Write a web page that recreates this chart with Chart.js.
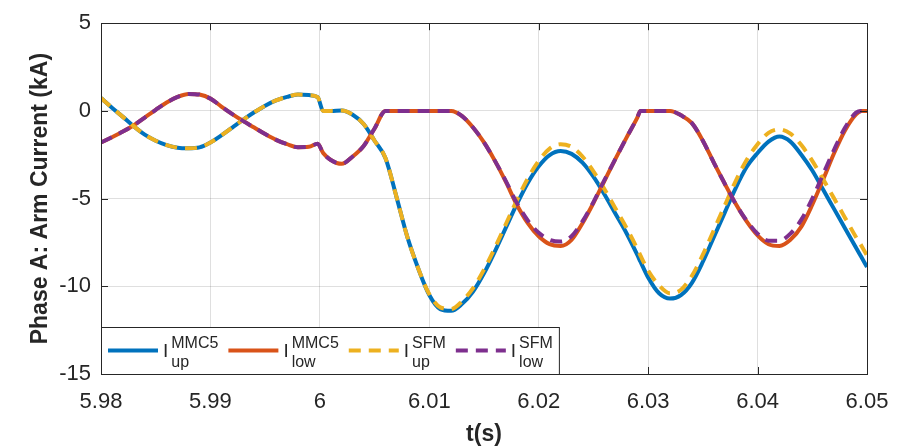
<!DOCTYPE html>
<html>
<head>
<meta charset="utf-8">
<script src="https://cdn.jsdelivr.net/npm/chart.js@4.4.1/dist/chart.umd.min.js"></script>
<style>
  body { margin: 0; background: #fff; }
</style>
</head>
<body>
<canvas id="c" width="907" height="448"></canvas>
<script>
// time axis (s) -- shared by all four traces
var times = [5.980,5.981,5.982,5.983,5.984,5.985,5.986,5.987,5.988,5.989,
  5.990,5.991,5.992,5.993,5.994,5.995,5.996,5.997,5.998,5.999,5.9998,6.0003,
  6.001,6.002,6.003,6.004,6.005,6.006,6.007,6.008,6.009,6.010,
  6.011,6.012,6.013,6.014,6.015,6.016,6.017,6.018,6.019,6.020,
  6.021,6.022,6.023,6.024,6.025,6.026,6.027,6.028,6.029,6.0293,6.030,
  6.031,6.032,6.033,6.034,6.035,6.036,6.037,6.038,6.039,6.040,
  6.041,6.042,6.043,6.044,6.045,6.046,6.047,6.048,6.049,6.0495,6.050];

// arm currents (kA)
var iUpMMC5 = [0.73,0.18,-0.34,-0.88,-1.35,-1.7,-1.95,-2.1,-2.13,-2.08,
  -1.8,-1.4,-0.95,-0.5,-0.08,0.3,0.6,0.8,0.93,0.9,0.78,0.0,
  0.0,0.02,-0.22,-0.75,-1.7,-2.7,-4.9,-7.2,-9.0,-10.5,
  -11.3,-11.4,-11.0,-10.3,-9.26,-8.01,-6.66,-5.32,-4.11,-3.16,
  -2.52,-2.29,-2.45,-2.95,-3.75,-4.75,-5.85,-6.95,-8.2,-8.6,-9.5,
  -10.4,-10.7,-10.5,-9.8,-8.6,-7.2,-5.8,-4.4,-3.2,-2.4,
  -1.75,-1.46,-1.75,-2.5,-3.4,-4.5,-5.6,-6.7,-7.8,-8.35,-8.9];

var iLowMMC5 = [-1.8,-1.5,-1.18,-0.82,-0.38,0.06,0.48,0.8,0.97,0.93,
  0.7,0.25,-0.18,-0.58,-0.95,-1.32,-1.65,-1.9,-2.07,-2.05,-1.87,-2.4,
  -2.8,-3.02,-2.6,-2.0,-1.0,0,0,0,0,0,
  0,0,-0.3,-0.95,-1.8,-2.85,-4.05,-5.35,-6.4,-7.15,
  -7.6,-7.7,-7.35,-6.4,-5.25,-4.0,-2.75,-1.55,-0.4,0,0,
  0,0,-0.25,-0.7,-1.7,-2.95,-4.15,-5.3,-6.3,-7.1,
  -7.6,-7.7,-7.35,-6.6,-5.35,-3.9,-2.4,-1.1,-0.2,0,0];

var iUpSFM = [0.73,0.18,-0.34,-0.88,-1.35,-1.7,-1.95,-2.1,-2.13,-2.08,
  -1.8,-1.4,-0.95,-0.5,-0.08,0.3,0.6,0.8,0.93,0.9,0.78,0.0,
  0.0,0.02,-0.22,-0.75,-1.7,-2.7,-4.9,-7.2,-9.0,-10.45,
  -11.2,-11.3,-10.85,-10.1,-9.05,-7.8,-6.45,-5.1,-3.85,-2.85,
  -2.15,-1.9,-2.05,-2.6,-3.45,-4.45,-5.55,-6.65,-7.85,-8.25,-9.1,
  -9.95,-10.4,-10.2,-9.4,-8.2,-6.8,-5.4,-4.0,-2.8,-1.9,
  -1.25,-1.05,-1.3,-1.95,-2.85,-3.9,-5.0,-6.1,-7.2,-7.7,-8.25];

var iLowSFM = [-1.8,-1.5,-1.18,-0.82,-0.38,0.06,0.48,0.8,0.97,0.93,
  0.7,0.25,-0.18,-0.58,-0.95,-1.32,-1.65,-1.9,-2.07,-2.05,-1.87,-2.4,
  -2.8,-3.02,-2.6,-2.0,-1.0,0,0,0,0,0,
  0,0,-0.3,-0.95,-1.8,-2.85,-4.0,-5.25,-6.25,-6.95,
  -7.35,-7.45,-7.15,-6.3,-5.2,-3.95,-2.75,-1.55,-0.4,0,0,
  0,0,-0.25,-0.7,-1.7,-2.95,-4.15,-5.3,-6.25,-7.0,
  -7.4,-7.4,-7.0,-6.2,-5.0,-3.6,-2.2,-0.95,-0.1,0,0];

var xTicks = [5.98, 5.99, 6, 6.01, 6.02, 6.03, 6.04, 6.05];
var yTicks = [-15, -10, -5, 0, 5];

var legendMain = ['I', 'I', 'I', 'I'];
var legendSup = ['MMC5', 'MMC5', 'SFM', 'SFM'];
var legendSub = ['up', 'low', 'up', 'low'];

var FONT = "'Liberation Sans', Arial, Helvetica, sans-serif";
var AXIS = '#262626';

function pts(arr) {
  return times.map(function(t, i) { return {x: t, y: arr[i]}; });
}

function trace(arr, color, dash, order) {
  return {
    data: pts(arr),
    borderColor: color,
    backgroundColor: color,
    borderWidth: 4,
    borderDash: dash,
    pointRadius: 0,
    fill: false,
    cubicInterpolationMode: 'monotone',
    order: order
  };
}

var datasets = [
  trace(iUpMMC5, '#0072BD', [], 4),
  trace(iLowMMC5, '#D95319', [], 3),
  trace(iUpSFM, '#EDB120', [12, 8], 2),
  trace(iLowSFM, '#7E2F8E', [12, 8], 1)
];

/* box, inward tick marks and the matlab style legend with super/subscripts */
var matlabFrame = {
  id: 'matlabFrame',
  afterDraw: function(chart) {
    var ctx = chart.ctx, a = chart.chartArea;
    var sx = chart.scales.x, sy = chart.scales.y;
    ctx.save();
    ctx.strokeStyle = AXIS;
    ctx.lineWidth = 1;
    ctx.setLineDash([]);
    ctx.strokeRect(Math.round(a.left) + 0.5, Math.round(a.top) + 0.5,
      Math.round(a.right - a.left), Math.round(a.bottom - a.top));
    ctx.beginPath();
    xTicks.forEach(function(v) {
      var px = Math.round(sx.getPixelForValue(v)) + 0.5;
      ctx.moveTo(px, a.bottom); ctx.lineTo(px, a.bottom - 7);
      ctx.moveTo(px, a.top); ctx.lineTo(px, a.top + 7);
    });
    yTicks.forEach(function(v) {
      var py = Math.round(sy.getPixelForValue(v)) + 0.5;
      ctx.moveTo(a.left, py); ctx.lineTo(a.left + 7, py);
      ctx.moveTo(a.right, py); ctx.lineTo(a.right - 7, py);
    });
    ctx.stroke();

    // legend
    var top = 327, bottom = Math.round(a.bottom);
    var ly = 350.5;
    var x = Math.round(a.left) + 7;
    var items = [];
    for (var i = 0; i < 4; i++) {
      var ds = chart.data.datasets[i];
      ctx.font = '19px ' + FONT;
      var wI = ctx.measureText(legendMain[i]).width;
      ctx.font = '16px ' + FONT;
      var wS = Math.max(ctx.measureText(legendSup[i]).width, ctx.measureText(legendSub[i]).width);
      items.push({x: x, ds: ds, wI: wI});
      x = x + 50 + 5 + wI + 3 + wS + 10;
    }
    var right = x - 4;
    ctx.fillStyle = '#fff';
    ctx.fillRect(Math.round(a.left) + 0.5, top + 0.5, right - a.left, bottom - top);
    ctx.strokeRect(Math.round(a.left) + 0.5, top + 0.5, right - a.left, bottom - top);

    items.forEach(function(it, i) {
      ctx.beginPath();
      ctx.strokeStyle = it.ds.borderColor;
      ctx.lineWidth = 4;
      ctx.setLineDash(it.ds.borderDash);
      ctx.moveTo(it.x, ly); ctx.lineTo(it.x + 50, ly);
      ctx.stroke();
      ctx.setLineDash([]);
      ctx.fillStyle = AXIS;
      ctx.textBaseline = 'alphabetic';
      ctx.textAlign = 'left';
      ctx.font = '19px ' + FONT;
      var tx = it.x + 55;
      ctx.fillText(legendMain[i], tx, 357);
      ctx.font = '16px ' + FONT;
      ctx.fillText(legendSup[i], tx + it.wI + 3, 348);
      ctx.fillText(legendSub[i], tx + it.wI + 3, 366.5);
    });
    ctx.restore();
  }
};

var chart = new Chart(document.getElementById('c'), {
  type: 'line',
  data: { datasets: datasets },
  options: {
    responsive: false,
    animation: false,
    devicePixelRatio: 1,
    layout: { padding: { left: 0, right: 40, top: 17, bottom: 0 } },
    plugins: { legend: { display: false }, tooltip: { enabled: false } },
    scales: {
      x: {
        type: 'linear',
        min: 5.98,
        max: 6.05,
        afterBuildTicks: function(s) { s.ticks = xTicks.map(function(v) { return {value: v}; }); },
        afterFit: function(s) { s.height = 74; },
        grid: { color: 'rgba(38,38,38,0.15)', drawTicks: false },
        border: { color: AXIS },
        ticks: {
          padding: 15,
          color: AXIS,
          font: { family: FONT, size: 22 },
          maxRotation: 0,
          autoSkip: false,
          callback: function(v) { return String(Number(v.toFixed(2))); }
        },
        title: {
          display: true,
          text: 't(s)',
          color: AXIS,
          font: { family: FONT, size: 23, weight: 'bold' },
          padding: { top: 0, bottom: 0 }
        }
      },
      y: {
        min: -15,
        max: 5,
        afterBuildTicks: function(s) { s.ticks = yTicks.map(function(v) { return {value: v}; }); },
        afterFit: function(s) { s.width = 101; },
        grid: { color: 'rgba(38,38,38,0.15)', drawTicks: false },
        border: { color: AXIS },
        ticks: {
          padding: 10,
          color: AXIS,
          font: { family: FONT, size: 22 },
          autoSkip: false
        },
        title: {
          display: true,
          text: 'Phase A: Arm Current (kA)',
          color: AXIS,
          font: { family: FONT, size: 23, weight: 'bold' },
          padding: { top: 27, bottom: 0 }
        }
      }
    }
  },
  plugins: [matlabFrame]
});
</script>
</body>
</html>
